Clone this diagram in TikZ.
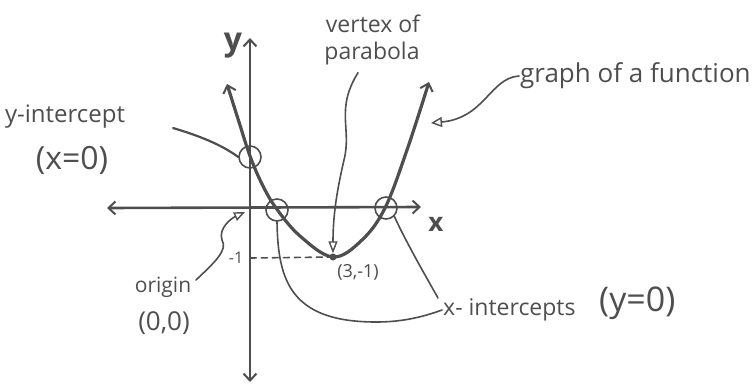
\documentclass[tikz,border=0pt]{standalone}
\usepackage{fontspec}
\setmainfont{Open Sans}
\usepackage{tikz}
\usetikzlibrary{calc,arrows.meta,positioning}
\definecolor{pencilGray}{RGB}{78,78,78}
\newcommand{\Hand}[1]{\fontsize{#1}{#1}\selectfont}

\begin{document}
\begin{tikzpicture}[x=1pt,y=-1pt,
  axisline/.style={draw=pencilGray,line width=2.6pt,{Straight Barb[length=7pt,width=13pt,line width=2pt]}-{Straight Barb[length=7pt,width=13pt,line width=2pt]}},
  curveline/.style={draw=pencilGray,line width=3.2pt,line cap=round},
  leader/.style={draw=pencilGray,line width=1.6pt,line cap=round},
  ring/.style={circle,draw=pencilGray,line width=1.6pt,minimum size=22pt,inner sep=0pt},
  handtext/.style={text=pencilGray,inner sep=1pt,align=center}]
\useasboundingbox (0,0) rectangle (752,383);
% axes
\coordinate (xleft) at (107,208);
\coordinate (xright) at (421,207);
\coordinate (ybot) at (250,382);
\coordinate (ytop) at (250,38);
\draw[axisline] (xleft) -- (xright);
\draw[axisline] (ybot) -- (ytop);
\node[handtext,font=\Hand{32}\bfseries] (ylbl) at (233,46) {y};
\node[handtext,font=\Hand{26}\bfseries] (xlbl) at (436,224) {x};
% parabola
\draw[curveline,{Straight Barb[length=7pt,width=13pt,line width=2pt]}-{Straight Barb[length=7pt,width=13pt,line width=2pt]}]
  plot[smooth,tension=0.6] coordinates {(227,84) (239,122) (250,156) (262,184) (276,208) (300,236) (333,257) (362,240) (385,208) (407,150) (429,82)};
\node[ring] (yint) at (250,157) {};
\node[ring] (xintA) at (277,210) {};
\node[ring] (xintB) at (386,208) {};
\node[circle,fill=pencilGray,minimum size=7pt,inner sep=0pt] (vtx) at (333,257) {};
\node[handtext,font=\Hand{16}] (tick) at (236,258) {-1};
\draw[leader,dashed,dash pattern=on 6pt off 5pt] (tick.east) ++(6,0) -- (vtx);
\node[handtext,font=\Hand{18}] (vtxlbl) at (358,272) {(3,-1)};
% y-intercept
\node[handtext,font=\Hand{24}] (yintlbl) at (65,117) {y-intercept};
\node[handtext,font=\Hand{32}] (yintcond) at (72,160) {(x=0)};
\coordinate (yintstart) at (173,128);
\draw[leader,line width=2.2pt] (yintstart) .. controls (200,136) and (222,145) .. (yint.west);
% vertex
\node[handtext,font=\Hand{23}] (vtxtop) at (373,24) {vertex of};
\node[handtext,font=\Hand{23}] (vtxbot) at (372,54) {parabola};
\draw[leader,-{Triangle[open,length=12pt,width=9pt,line width=1.4pt]}]
  (vtxbot.south) ++(-14,6) .. controls (335,110) and (352,128) .. (344,160)
  .. controls (337,190) and (333,215) .. (vtx.north);
% graph of a function
\node[handtext,font=\Hand{26},anchor=west] (graphlbl) at (519,76) {graph of a function};
\coordinate (graphtip) at (431,123);
\draw[leader,-{Triangle[open,length=11pt,width=10pt,line width=1.4pt]}]
  (graphlbl.west) .. controls (490,78) and (485,118) .. (graphtip);
% origin
\node[handtext,font=\Hand{21}] (orglbl) at (163,287) {origin};
\node[handtext,font=\Hand{26}] (orgpt) at (164,323) {(0,0)};
\coordinate (orgtip) at (245,212);
\draw[leader,-{Triangle[open,length=11pt,width=9pt,line width=1.4pt]}]
  (196,280) .. controls (215,262) and (228,250) .. (222,240)
  .. controls (218,228) and (232,218) .. (orgtip);
% x-intercepts
\node[handtext,font=\Hand{23},anchor=west] (xintlbl) at (442,310) {x- intercepts};
\node[handtext,font=\Hand{34},anchor=west] (xintcond) at (598,303) {(y=0)};
\draw[leader] (xintA.south) .. controls (278,280) and (290,322) .. (376,322)
  .. controls (400,322) and (420,318) .. (xintlbl.west);
\draw[leader] (xintB.south east) .. controls (405,240) and (425,275) .. (438,298);
\end{tikzpicture}
\end{document}
